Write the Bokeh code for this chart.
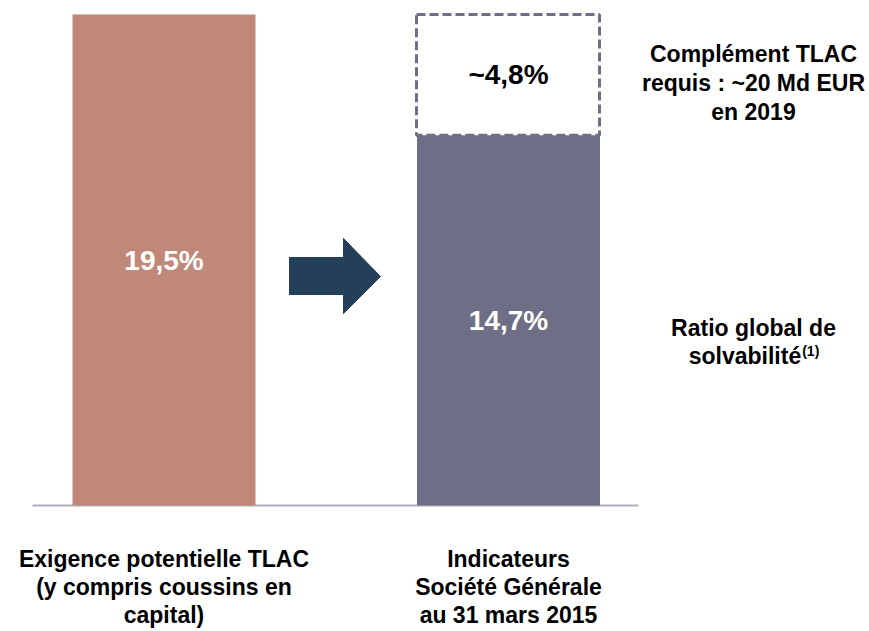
from bokeh.plotting import figure
from bokeh.models import Range1d
from bokeh.core.properties import value
from bokeh.embed import file_html
from bokeh.resources import INLINE

# ---- data ----
categories = ["Exigence potentielle TLAC\n(y compris coussins en\ncapital)",
              "Indicateurs\nSociété Générale\nau 31 mars 2015"]
requirement = [19.5]
current_ratio = [14.7]
complement = [4.8]
bar_labels = ["19,5%", "14,7%", "~4,8%"]
note_top = ["Complément TLAC", "requis : ~20 Md EUR", "en 2019"]
note_bottom = ["Ratio global de", "solvabilité"]
note_sup = "(1)"

W, H = 869, 631
BASE_PX = 505          # pixel row of value 0
TOP_PX = 14            # pixel row of value 19.5
K = 19.5 / (BASE_PX - TOP_PX)   # data units per px


def py(px):
    """pixel row -> data y"""
    return (BASE_PX - px) * K


p = figure(width=W, height=H, output_backend="svg", toolbar_location=None,
           x_range=Range1d(0, W), y_range=Range1d(py(H), py(0)),
           min_border=0, outline_line_color=None)
p.axis.visible = False
p.grid.visible = False
p.background_fill_color = "white"
p.border_fill_color = "white"

FONT = value("Liberation Sans")
x1, x2 = 163.5, 508
bw = 183

# baseline
p.segment(x0=[32], y0=[0], x1=[638], y1=[0], line_color="#A9B0B9", line_width=2)

# bars
p.vbar(x=[x1], top=requirement, bottom=0, width=bw, fill_color="#C08879", line_color=None)
p.vbar(x=[x2], top=current_ratio, bottom=0, width=bw, fill_color="#6E6E86", line_color=None)
p.vbar(x=[x2 - 0.5], top=[current_ratio[0] + complement[0]], bottom=current_ratio[0], width=bw,
       fill_color=None, line_color="#6E6E86", line_width=3, line_dash="9 4")

# arrow
ax = [289, 343, 343, 380, 343, 343, 289]
ay_px = [257, 257, 238, 276, 313, 294, 294]
p.patch(x=ax, y=[py(v) for v in ay_px], fill_color="#243F5A", line_color="#243F5A")

# bar value labels
p.text(x=[x1, x2], y=[requirement[0] / 2, current_ratio[0] / 2], text=bar_labels[:2],
       text_color="white", text_font=FONT, text_font_style="bold", text_font_size="28px",
       text_align="center", text_baseline="middle")
p.text(x=[x2], y=[current_ratio[0] + complement[0] / 2], text=[bar_labels[2]],
       text_color="black", text_font=FONT, text_font_style="bold", text_font_size="28px",
       text_align="center", text_baseline="middle")

# right notes
nx = 753
FS = 23
p.text(x=[nx] * 3, y=[py(53), py(82), py(111)], text=note_top,
       text_color="black", text_font=FONT, text_font_style="bold", text_font_size=f"{FS}px",
       text_align="center", text_baseline="middle")
p.text(x=[nx], y=[py(327)], text=[note_bottom[0]],
       text_color="black", text_font=FONT, text_font_style="bold", text_font_size=f"{FS}px",
       text_align="center", text_baseline="middle")
sw = 4.891 * FS
supw = 1.222 * 14
sx = nx - (sw + supw) / 2
p.text(x=[sx], y=[py(355)], text=[note_bottom[1]],
       text_color="black", text_font=FONT, text_font_style="bold", text_font_size=f"{FS}px",
       text_align="left", text_baseline="middle")
p.text(x=[sx + sw + 1], y=[py(350)], text=[note_sup],
       text_color="black", text_font=FONT, text_font_style="bold", text_font_size="14px",
       text_align="left", text_baseline="middle")

# category labels
for cx, cat in zip([x1, x2], categories):
    lines = cat.split("\n")
    ys = [py(558 + 28 * i) for i in range(len(lines))]
    p.text(x=[cx] * len(lines), y=ys, text=lines,
           text_color="black", text_font=FONT, text_font_style="bold", text_font_size=f"{FS}px",
           text_align="center", text_baseline="middle")

open("out.html", "w").write(file_html(p, INLINE))
